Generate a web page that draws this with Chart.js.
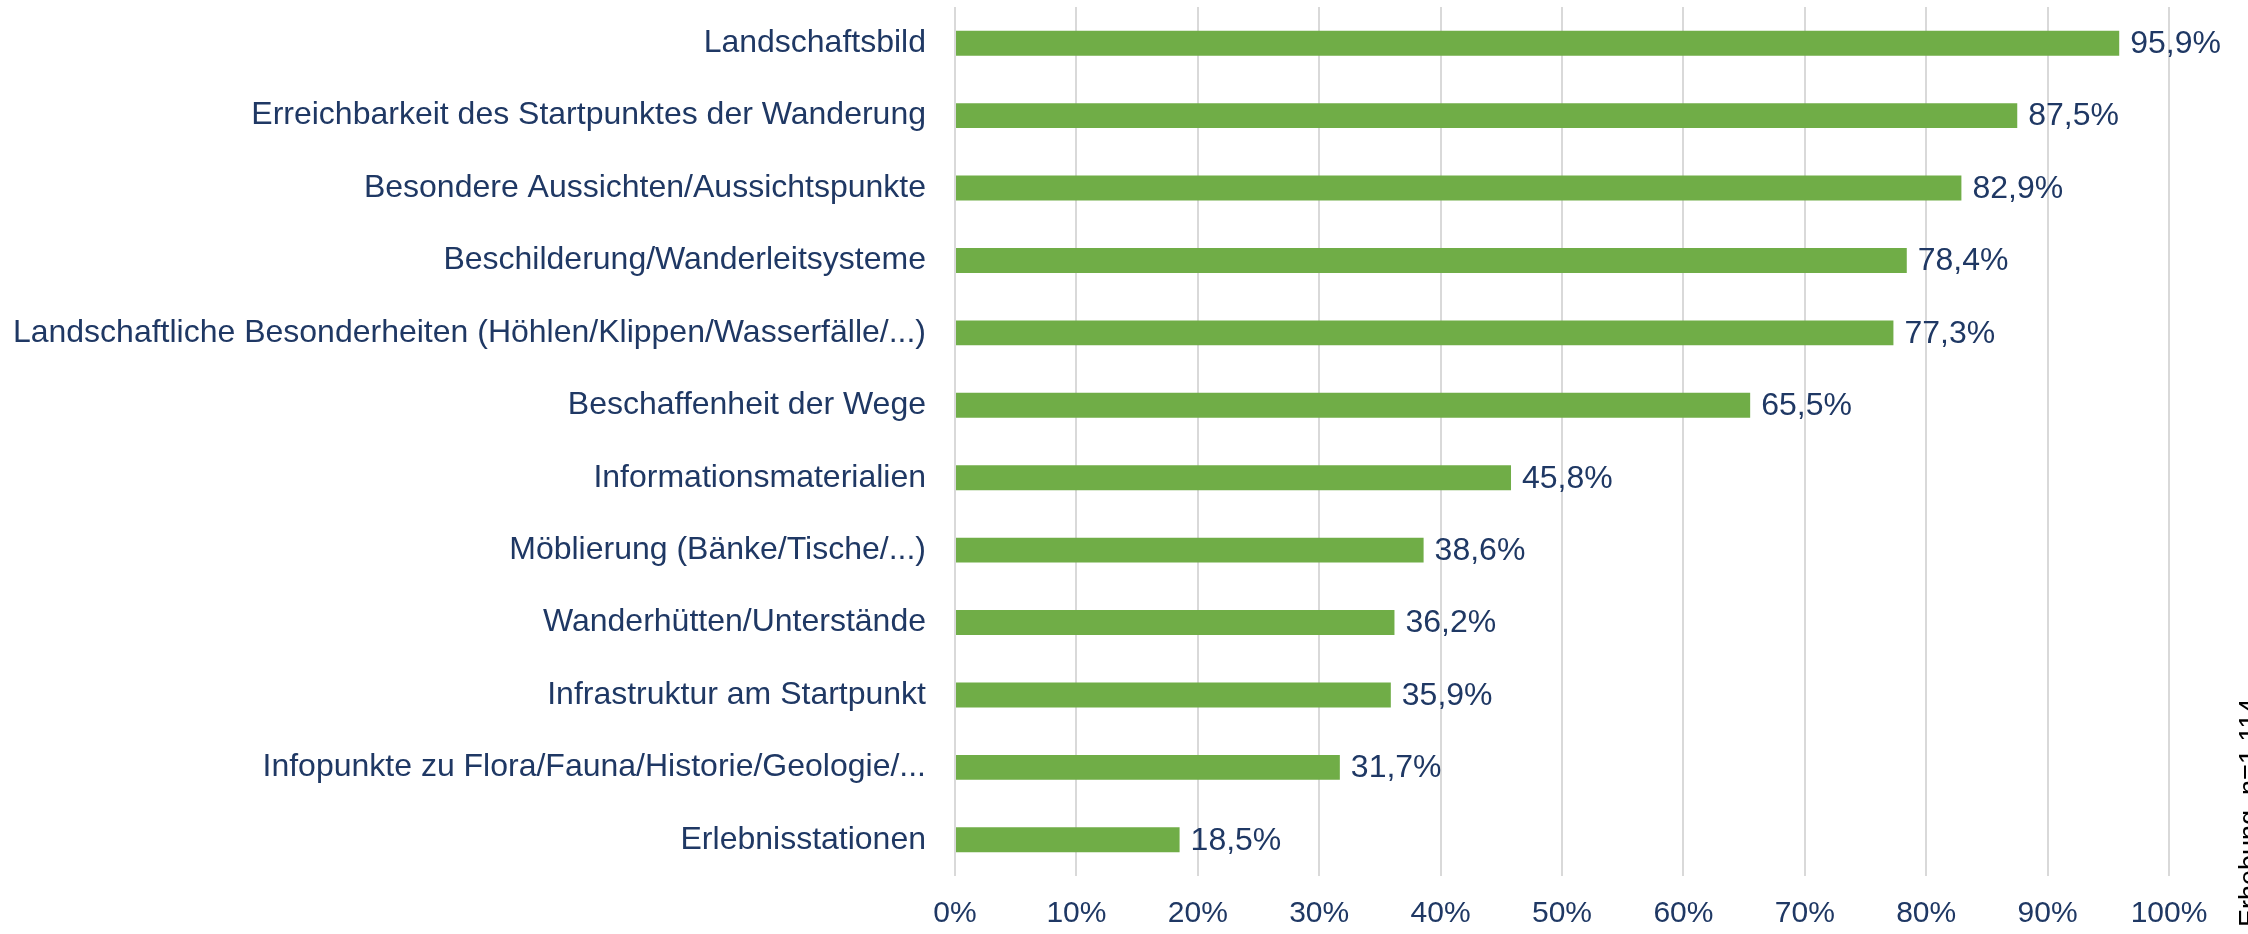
<!DOCTYPE html>
<html>
<head>
<meta charset="utf-8">
<script src="https://cdn.jsdelivr.net/npm/chart.js@4.4.1/dist/chart.umd.min.js"></script>
<style>
html,body{margin:0;padding:0;background:#fff;}
#wrap{width:2248px;height:934px;position:relative;}
</style>
</head>
<body>
<div id="wrap"><canvas id="c" width="2248" height="934"></canvas></div>
<script>
const categories = [
  "Landschaftsbild",
  "Erreichbarkeit des Startpunktes der Wanderung",
  "Besondere Aussichten/Aussichtspunkte",
  "Beschilderung/Wanderleitsysteme",
  "Landschaftliche Besonderheiten (Höhlen/Klippen/Wasserfälle/...)",
  "Beschaffenheit der Wege",
  "Informationsmaterialien",
  "Möblierung (Bänke/Tische/...)",
  "Wanderhütten/Unterstände",
  "Infrastruktur am Startpunkt",
  "Infopunkte zu Flora/Fauna/Historie/Geologie/...",
  "Erlebnisstationen"
];
const values = [95.9, 87.5, 82.9, 78.4, 77.3, 65.5, 45.8, 38.6, 36.2, 35.9, 31.7, 18.5];
const tickValues = [0, 10, 20, 30, 40, 50, 60, 70, 80, 90, 100];
const notePrefix = "Quelle: Eigene ";
const noteMain = "Erhebung, n=1.114";

const FONT = "'Liberation Sans', Arial, Helvetica, sans-serif";
const NAVY = "#1F3864";

const valueLabels = {
  id: 'valueLabels',
  afterDatasetsDraw(chart) {
    const ctx = chart.ctx;
    const meta = chart.getDatasetMeta(0);
    ctx.save();
    ctx.font = "32px " + FONT;
    ctx.fillStyle = NAVY;
    ctx.textAlign = 'left';
    ctx.textBaseline = 'middle';
    meta.data.forEach((bar, i) => {
      const txt = values[i].toFixed(1).replace('.', ',') + '%';
      ctx.fillText(txt, bar.x + 11, bar.y + 1);
    });
    ctx.restore();
  }
};

const sideNote = {
  id: 'sideNote',
  afterDraw(chart) {
    const ctx = chart.ctx;
    ctx.save();
    ctx.translate(2258, 927);
    ctx.rotate(-Math.PI / 2);
    ctx.font = "27px " + FONT;
    ctx.fillStyle = "#000";
    ctx.textBaseline = 'alphabetic';
    ctx.textAlign = 'left';
    ctx.fillText(noteMain, 0, 0);
    ctx.textAlign = 'right';
    ctx.fillText(notePrefix, 0, 0);
    ctx.restore();
  }
};

new Chart(document.getElementById('c'), {
  type: 'bar',
  data: {
    labels: categories,
    datasets: [{
      data: values,
      backgroundColor: '#70AD47',
      borderWidth: 0,
      barPercentage: 0.345,
      categoryPercentage: 1.0
    }]
  },
  options: {
    indexAxis: 'y',
    responsive: false,
    animation: false,
    devicePixelRatio: 1,
    layout: { padding: { top: 7, right: 79, left: 0, bottom: 0 } },
    plugins: { legend: { display: false }, tooltip: { enabled: false } },
    scales: {
      x: {
        min: 0, max: 100,
        afterBuildTicks(axis) { axis.ticks = tickValues.map(v => ({ value: v })); },
        afterFit(axis) { axis.height = 58; axis.paddingLeft = 0; axis.paddingRight = 0; axis.paddingTop = 0; axis.paddingBottom = 0; },
        grid: { color: '#D9D9D9', lineWidth: 2, drawTicks: false },
        border: { display: false },
        ticks: {
          padding: 20,
          color: NAVY,
          font: { family: FONT, size: 30 },
          callback: v => v + '%'
        }
      },
      y: {
        afterFit(axis) { axis.width = 955; axis.paddingTop = 0; axis.paddingBottom = 0; axis.paddingLeft = 0; axis.paddingRight = 0; },
        grid: { display: false, drawTicks: false },
        border: { display: false },
        ticks: {
          padding: 29,
          color: NAVY,
          font: { family: FONT, size: 32 },
          autoSkip: false
        }
      }
    }
  },
  plugins: [valueLabels, sideNote]
});
</script>
</body>
</html>
